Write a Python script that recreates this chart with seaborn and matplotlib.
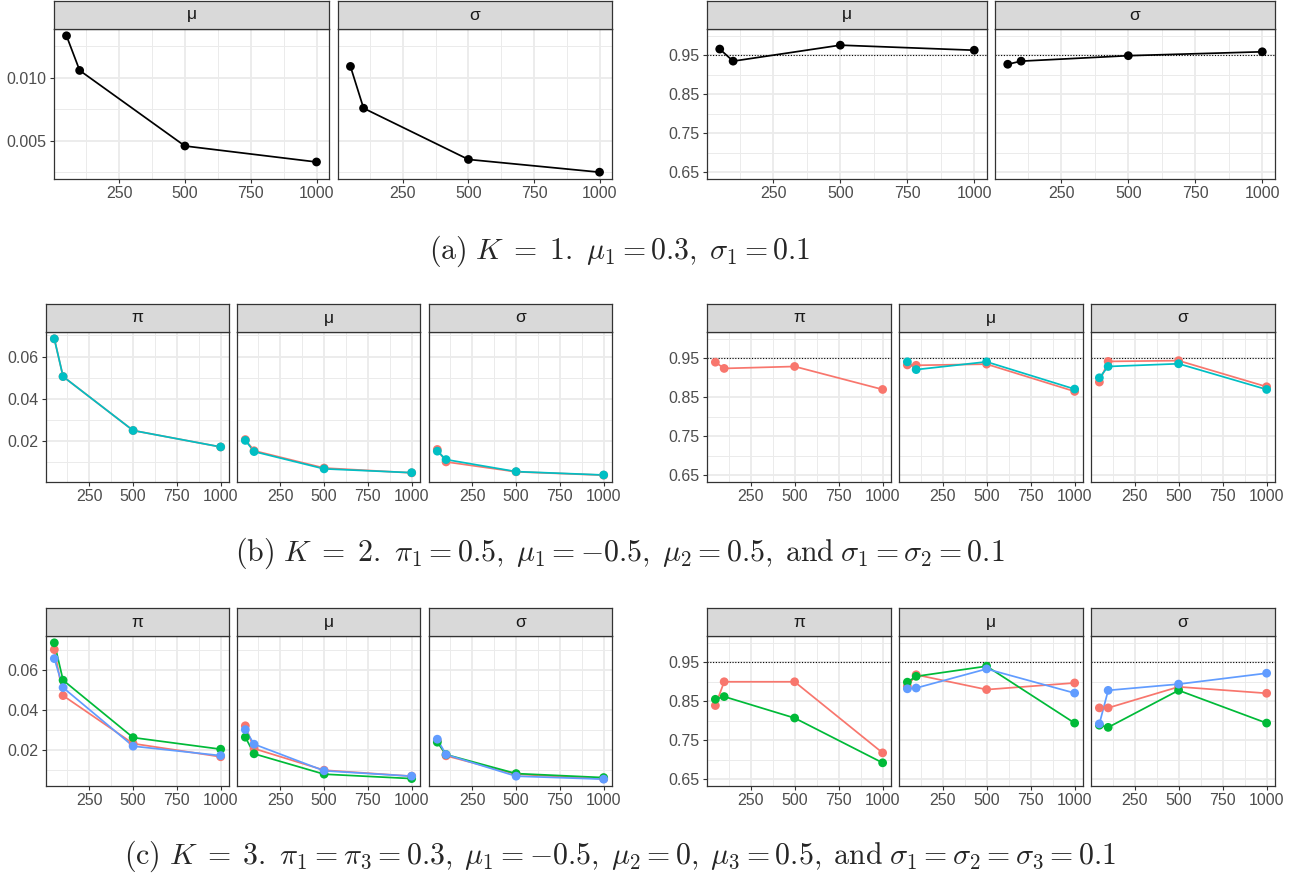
import pandas as pd
import seaborn as sns
import matplotlib.pyplot as plt
from matplotlib.ticker import FixedLocator

W, H = 1299, 880

# sample sizes on the x axis
n_sizes = [50, 100, 500, 1000]
x_ticks = [250, 500, 750, 1000]
x_minor = [125, 375, 625, 875]

# (a) K = 1 : RMSE and coverage
rmse_a_mu = [0.01333, 0.01058, 0.00458, 0.00331]
rmse_a_sigma = [0.0109, 0.00758, 0.00351, 0.0025]
cover_a_mu = [0.966, 0.935, 0.976, 0.963]
cover_a_sigma = [0.927, 0.935, 0.949, 0.959]

# (b) K = 2
rmse_b_pi1 = [0.0684, 0.0505, 0.0249, 0.0171]
rmse_b_pi2 = [0.0684, 0.0505, 0.0249, 0.0171]
rmse_b_mu1 = [0.0206, 0.0153, 0.0071, 0.0048]
rmse_b_mu2 = [0.0202, 0.0149, 0.0067, 0.0049]
rmse_b_sigma1 = [0.0159, 0.0100, 0.0053, 0.0037]
rmse_b_sigma2 = [0.0151, 0.0111, 0.0054, 0.0038]
cover_b_pi1 = [0.940, 0.924, 0.929, 0.870]
cover_b_mu1 = [0.933, 0.932, 0.935, 0.865]
cover_b_mu2 = [0.941, 0.921, 0.941, 0.871]
cover_b_sigma1 = [0.889, 0.942, 0.944, 0.877]
cover_b_sigma2 = [0.900, 0.929, 0.936, 0.870]

# (c) K = 3
rmse_c_pi1 = [0.0703, 0.0473, 0.0233, 0.0167]
rmse_c_pi2 = [0.0737, 0.0550, 0.0263, 0.0205]
rmse_c_pi3 = [0.0658, 0.0513, 0.0220, 0.0173]
rmse_c_mu1 = [0.0322, 0.0208, 0.0100, 0.0070]
rmse_c_mu2 = [0.0265, 0.0182, 0.0080, 0.0058]
rmse_c_mu3 = [0.0303, 0.0230, 0.0097, 0.0070]
rmse_c_sigma1 = [0.0247, 0.0172, 0.0080, 0.0057]
rmse_c_sigma2 = [0.0240, 0.0178, 0.0083, 0.0063]
rmse_c_sigma3 = [0.0255, 0.0178, 0.0070, 0.0055]
cover_c_pi1 = [0.839, 0.900, 0.900, 0.7175]
cover_c_pi2 = [0.855, 0.862, 0.807, 0.692]
cover_c_mu1 = [0.8885, 0.918, 0.880, 0.897]
cover_c_mu2 = [0.899, 0.914, 0.940, 0.794]
cover_c_mu3 = [0.882, 0.884, 0.933, 0.871]
cover_c_sigma1 = [0.833, 0.833, 0.887, 0.8705]
cover_c_sigma2 = [0.7885, 0.783, 0.878, 0.794]
cover_c_sigma3 = [0.792, 0.878, 0.894, 0.922]

cover_ticks = [0.65, 0.75, 0.85, 0.95]
cover_labels = ["0.65", "0.75", "0.85", "0.95"]
cover_minor = [0.70, 0.80, 0.90, 1.00]
nominal = 0.95

captions = [
    r"$\mathrm{(a)}\ K\;=\;\mathit{1}.\ \mu_1 = 0.3,\;\sigma_1 = 0.1$",
    r"$\mathrm{(b)}\ K\;=\;\mathit{2}.\ \pi_1 = 0.5,\;\mu_1 = -0.5,\;\mu_2 = 0.5,\;\mathrm{and}\;\sigma_1 = \sigma_2 = 0.1$",
    r"$\mathrm{(c)}\ K\;=\;\mathit{3}.\ \pi_1 = \pi_3 = 0.3,\;\mu_1 = -0.5,\;\mu_2 = 0,\;\mu_3 = 0.5,\;\mathrm{and}\;\sigma_1 = \sigma_2 = \sigma_3 = 0.1$",
]

pal1 = ["black"]
pal2 = ["#F8766D", "#00BFC4"]
pal3 = ["#F8766D", "#00BA38", "#619CFF"]

sns.set_theme(style="white")
plt.rcParams["font.family"] = ["Liberation Sans", "DejaVu Sans"]
plt.rcParams["mathtext.fontset"] = "cm"

GRID = "#EBEBEB"
DARK = "#333333"


def expand(values, frac=0.05):
    lo, hi = min(values), max(values)
    pad = (hi - lo) * frac
    return lo - pad, hi + pad


def panel(fig, box, label, series, palette, ylim, yticks, ylabels, yminor,
          first, cover):
    l, r, t, b = box
    ax = fig.add_axes([l / W, 1 - b / H, (r - l) / W, (b - t) / H])
    strip = fig.add_axes([l / W, 1 - t / H, (r - l) / W, 28 / H])
    strip.set_facecolor("#D9D9D9")
    strip.set_xticks([])
    strip.set_yticks([])
    for s in strip.spines.values():
        s.set_color(DARK)
        s.set_linewidth(0.9)
    strip.text(0.5, 0.5, label, ha="center", va="center", fontsize=12.5,
               color="#1A1A1A", transform=strip.transAxes)

    rows = []
    for i, vals in enumerate(series):
        for n, v in zip(n_sizes, vals):
            rows.append({"n": n, "value": v, "comp": i})
    df = pd.DataFrame(rows)
    pal = {i: palette[i] for i in range(len(series))}

    ax.set_axisbelow(True)
    ax.xaxis.set_major_locator(FixedLocator(x_ticks))
    ax.xaxis.set_minor_locator(FixedLocator(x_minor))
    ax.yaxis.set_major_locator(FixedLocator(yticks))
    ax.yaxis.set_minor_locator(FixedLocator(yminor))
    ax.grid(True, which="major", color=GRID, lw=1.3)
    ax.grid(True, which="minor", color=GRID, lw=0.7)

    if cover:
        ax.axhline(nominal, color="black", ls=(0, (1, 1.5)), lw=0.8, zorder=1.5)

    sns.lineplot(data=df, x="n", y="value", hue="comp", palette=pal,
                 legend=False, ax=ax, linewidth=1.25, errorbar=None)
    sns.scatterplot(data=df, x="n", y="value", hue="comp", palette=pal,
                    legend=False, ax=ax, s=40, linewidth=0, zorder=3)

    ax.set_xlim(2.5, 1047.5)
    ax.set_ylim(*ylim)
    ax.set_xlabel("")
    ax.set_ylabel("")
    ax.set_xticklabels([str(x) for x in x_ticks])
    ax.tick_params(axis="both", which="major", length=3, width=0.8,
                   color=DARK, labelcolor="#4D4D4D", labelsize=11.5, pad=2.2,
                   bottom=True, left=first)
    ax.tick_params(which="minor", length=0)
    if first:
        ax.set_yticklabels(ylabels)
    else:
        ax.tick_params(labelleft=False)
    for s in ax.spines.values():
        s.set_color(DARK)
        s.set_linewidth(0.9)
    return ax


fig = plt.figure(figsize=(W / 100, H / 100), dpi=100)

cover_lim = (0.6325, 1.0175)

# row a
ta, ba = 29, 179
lim_a = expand(rmse_a_mu + rmse_a_sigma)
left_a = [(54, 329), (338, 612)]
right_a = [(707, 987), (995, 1275)]
rmse_a = [("\u03bc", [rmse_a_mu]), ("\u03c3", [rmse_a_sigma])]
cov_a = [("\u03bc", [cover_a_mu]), ("\u03c3", [cover_a_sigma])]
for i, ((l, r), (lab, ser)) in enumerate(zip(left_a, rmse_a)):
    panel(fig, (l, r, ta, ba), lab, ser, pal1, lim_a, [0.005, 0.010],
          ["0.005", "0.010"], [0.0025, 0.0075, 0.0125], i == 0, False)
for i, ((l, r), (lab, ser)) in enumerate(zip(right_a, cov_a)):
    panel(fig, (l, r, ta, ba), lab, ser, pal1, cover_lim, cover_ticks,
          cover_labels, cover_minor, i == 0, True)

left_bc = [(46, 229), (237, 420), (429, 612)]
right_bc = [(707, 891), (899, 1083), (1091, 1275)]
rmse_ticks = [0.02, 0.04, 0.06]
rmse_labels = ["0.02", "0.04", "0.06"]
rmse_minor = [0.01, 0.03, 0.05, 0.07]

# row b
tb, bb = 332, 482
rmse_b = [("\u03c0", [rmse_b_pi1, rmse_b_pi2]),
          ("\u03bc", [rmse_b_mu1, rmse_b_mu2]),
          ("\u03c3", [rmse_b_sigma1, rmse_b_sigma2])]
cov_b = [("\u03c0", [cover_b_pi1]),
         ("\u03bc", [cover_b_mu1, cover_b_mu2]),
         ("\u03c3", [cover_b_sigma1, cover_b_sigma2])]
lim_b = expand(sum([v for _, s in rmse_b for v in s], []))
for i, ((l, r), (lab, ser)) in enumerate(zip(left_bc, rmse_b)):
    panel(fig, (l, r, tb, bb), lab, ser, pal2, lim_b, rmse_ticks,
          rmse_labels, rmse_minor, i == 0, False)
for i, ((l, r), (lab, ser)) in enumerate(zip(right_bc, cov_b)):
    panel(fig, (l, r, tb, bb), lab, ser, pal2, cover_lim, cover_ticks,
          cover_labels, cover_minor, i == 0, True)

# row c
tc, bc = 636, 786
rmse_c = [("\u03c0", [rmse_c_pi1, rmse_c_pi2, rmse_c_pi3]),
          ("\u03bc", [rmse_c_mu1, rmse_c_mu2, rmse_c_mu3]),
          ("\u03c3", [rmse_c_sigma1, rmse_c_sigma2, rmse_c_sigma3])]
cov_c = [("\u03c0", [cover_c_pi1, cover_c_pi2]),
         ("\u03bc", [cover_c_mu1, cover_c_mu2, cover_c_mu3]),
         ("\u03c3", [cover_c_sigma1, cover_c_sigma2, cover_c_sigma3])]
lim_c = expand(sum([v for _, s in rmse_c for v in s], []))
for i, ((l, r), (lab, ser)) in enumerate(zip(left_bc, rmse_c)):
    panel(fig, (l, r, tc, bc), lab, ser, pal3, lim_c, rmse_ticks,
          rmse_labels, rmse_minor, i == 0, False)
for i, ((l, r), (lab, ser)) in enumerate(zip(right_bc, cov_c)):
    panel(fig, (l, r, tc, bc), lab, ser, pal3, cover_lim, cover_ticks,
          cover_labels, cover_minor, i == 0, True)

# captions
for cap, y in zip(captions, [251, 553, 856]):
    fig.text(620 / W, 1 - y / H, cap, ha="center", va="center", fontsize=21.5)

fig.savefig("out.png", dpi=100, facecolor="white")
